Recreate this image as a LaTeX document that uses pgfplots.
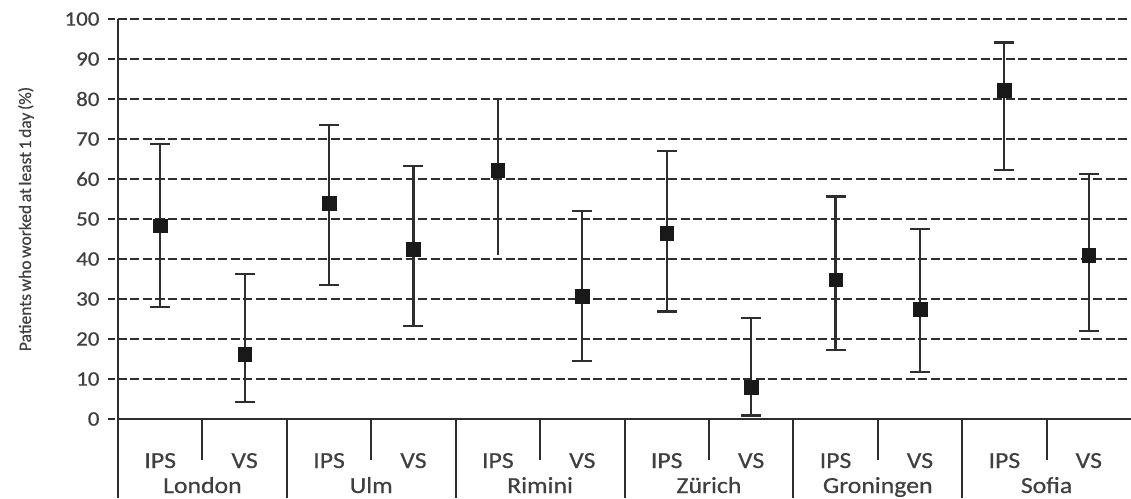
\documentclass[border=0pt]{standalone}
\usepackage{fontspec}
\setmainfont{Carlito}
\newfontfamily\wfont[FakeStretch=1.12, FakeBold=0.6]{Carlito}
\newfontfamily\lfont[FakeBold=0.5]{Carlito}
\newcommand\ylabfont{\lfont\fontsize{17.5}{17.5}\selectfont\spaceskip=0.15em\relax}
\usepackage{pgfplots}
\pgfplotsset{compat=1.18}
\definecolor{txt}{HTML}{404040}
\definecolor{ln}{HTML}{2E2E2E}
\begin{document}
\begin{tikzpicture}
\begin{axis}[
  name=ax,
  width=1013pt, height=400pt, scale only axis,
  xmin=-0.5, xmax=11.5, ymin=0, ymax=100,
  clip=false,
  axis x line*=bottom, axis y line*=left,
  axis line style={line width=2pt, ln},
  ytick={0,10,...,100},
  tick align=outside,
  major tick length=10pt,
  ytick style={line width=2pt, ln, dash pattern=on 7pt off 3pt},
  ymajorgrids,
  major grid style={line width=2pt, ln, dash pattern=on 9pt off 3.5pt},
  /pgf/number format/assume math mode=true,
  yticklabel style={font=\wfont\fontsize{20.5}{20.5}\selectfont, text=txt, xshift=-5pt},
  xtick={0,...,11},
  xticklabels={IPS,VS,IPS,VS,IPS,VS,IPS,VS,IPS,VS,IPS,VS},
  xtick style={draw=none},
  xticklabel style={font=\wfont\fontsize{23}{23}\selectfont, text=txt, anchor=base, yshift=-39pt},
  ylabel={Patients who worked at least 1 day (\%)},
  every axis y label/.style={at={(axis description cs:0,0.5)}, xshift=-92pt, rotate=90, anchor=center, font=\ylabfont, text=txt},
]
\addplot[only marks, mark=square*, mark size=6.8pt, mark options={fill=black!90, draw=black!90},
  error bars/.cd, y dir=both, y explicit,
  error bar style={line width=2.2pt, ln},
  error mark options={rotate=90, mark size=10pt, line width=2.2pt, ln}]
  table[x=x, y=y, y error plus=ep, y error minus=em]{
x y ep em
0 48.3 20.4 20.3
1 16.2 20.0 12.0
2 54.0 19.5 20.5
3 42.5 20.8 19.3
5 30.7 21.3 16.2
6 46.5 20.5 19.6
7 8.0 17.3 7.1
8 34.8 20.8 17.55
9 27.5 20.0 15.75
10 82.2 11.9 20.0
11 41.0 20.2 19.0
};
\addplot[only marks, mark=square*, mark size=6.8pt, mark options={fill=black!90, draw=black!90},
  error bars/.cd, y dir=both, y explicit,
  error bar style={line width=2.2pt, ln},
  error mark=none]
  table[x=x, y=y, y error plus=ep, y error minus=em]{
x y ep em
4 62.2 17.8 21.2
};
\pgfplotsinvokeforeach{-0.5,1.5,3.5,5.5,7.5,9.5}{
  \draw[line width=2pt, ln] (axis cs:#1,0) -- ++(0pt,-79pt);
}
\pgfplotsinvokeforeach{0.5,2.5,4.5,6.5,8.5,10.5}{
  \draw[line width=2pt, ln] (axis cs:#1,0) -- ++(0pt,-41pt);
}
\node[anchor=base, yshift=-74pt, font=\wfont\fontsize{23}{23}\selectfont, text=txt] at (axis cs:0.5,0) {London};
\node[anchor=base, yshift=-74pt, font=\wfont\fontsize{23}{23}\selectfont, text=txt] at (axis cs:2.5,0) {Ulm};
\node[anchor=base, yshift=-74pt, font=\wfont\fontsize{23}{23}\selectfont, text=txt] at (axis cs:4.5,0) {Rimini};
\node[anchor=base, yshift=-74pt, font=\wfont\fontsize{23}{23}\selectfont, text=txt] at (axis cs:6.5,0) {Zürich};
\node[anchor=base, yshift=-74pt, font=\wfont\fontsize{23}{23}\selectfont, text=txt] at (axis cs:8.5,0) {Groningen};
\node[anchor=base, yshift=-74pt, font=\wfont\fontsize{23}{23}\selectfont, text=txt] at (axis cs:10.5,0) {Sofia};
\end{axis}
\pgfresetboundingbox
\path[use as bounding box] ([xshift=-118pt,yshift=-79pt]ax.south west) rectangle ([yshift=19pt]ax.north east);
\end{tikzpicture}
\end{document}
